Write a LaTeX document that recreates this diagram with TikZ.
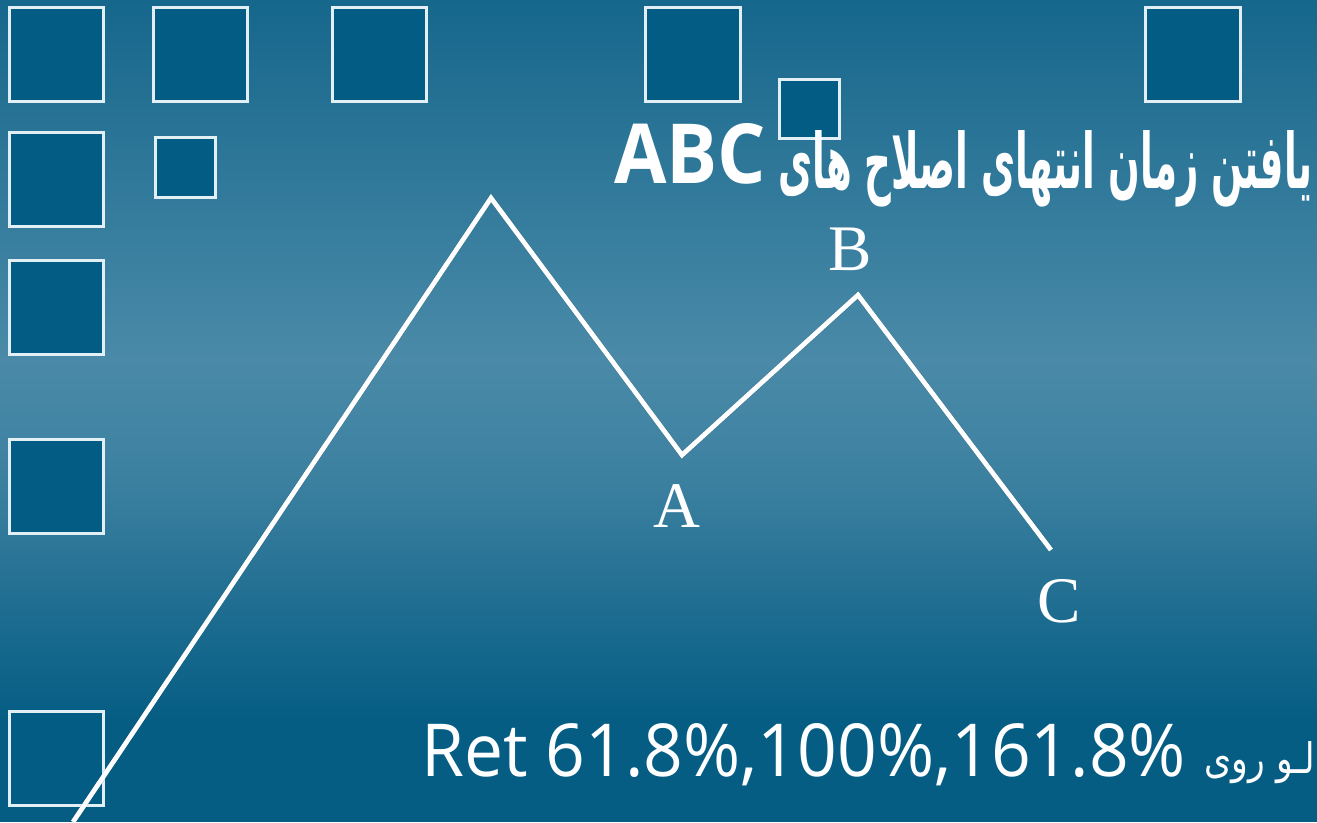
\documentclass[tikz,border=0pt]{standalone}
\usepackage{fontspec}
\setmainfont{Liberation Serif}
\newfontfamily\latinsans{Open Sans}
\newfontfamily\farsi[Script=Arabic]{DejaVu Sans}
\TeXXeTstate=1
\definecolor{bgtop}{RGB}{22,103,140}
\definecolor{bgmid}{RGB}{74,138,168}
\definecolor{bgmidb}{RGB}{60,128,160}
\definecolor{bgbot}{RGB}{5,93,132}
\definecolor{sqfill}{RGB}{2,92,132}
\definecolor{sqline}{RGB}{226,239,245}
\begin{document}
\begin{tikzpicture}[x=1pt,y=1pt,
  sq/.style={fill=sqfill, draw=sqline, line width=3pt},
  wave/.style={draw=white, line width=4.8pt, line join=miter},
  lbl/.style={text=white, font=\fontsize{65}{65}\selectfont, inner sep=0pt, anchor=base},
  txt/.style={text=white, inner sep=0pt}]
\useasboundingbox (0,0) rectangle (1317,-822);
% background
\shade[top color=bgtop, bottom color=bgmid] (0,0) rectangle (1317,-360);
\shade[top color=bgmid, bottom color=bgmidb] (0,-360) rectangle (1317,-480);
\shade[top color=bgmidb, bottom color=bgbot] (0,-480) rectangle (1317,-720);
\fill[bgbot] (0,-720) rectangle (1317,-822);
% squares
\draw[sq] (9,-7) rectangle (103,-101);
\draw[sq] (153,-7) rectangle (247,-101);
\draw[sq] (332,-7) rectangle (426,-101);
\draw[sq] (645,-7) rectangle (740,-101);
\draw[sq] (1145,-7) rectangle (1240,-101);
\draw[sq] (779,-79) rectangle (839,-138);
\draw[sq] (9,-132) rectangle (103,-226);
\draw[sq] (155,-137) rectangle (215,-197);
\draw[sq] (9,-260) rectangle (103,-354);
\draw[sq] (9,-439) rectangle (103,-533);
\draw[sq] (9,-711) rectangle (103,-805);
% wave
\coordinate (s) at (73,-822);
\coordinate (p) at (491,-198);
\coordinate (a) at (682,-455);
\coordinate (b) at (858,-295);
\coordinate (c) at (1051,-550);
\draw[wave, draw=black, opacity=0.18, line width=5.5pt, shift={(1.5,-1.5)}] (s) -- (p) -- (a) -- (b) -- (c);
\draw[wave] (s) -- (p) -- (a) -- (b) -- (c);
% labels
\node[lbl] (la) at (677,-527) {A};
\node[lbl] (lb) at (850,-270) {B};
\node[lbl] (lc) at (1059,-622) {C};
% title
\node[txt, anchor=base west] (abc) at (614,-183) {\resizebox{152pt}{60pt}{\latinsans\bfseries ABC}};
\node[txt, anchor=base west] (ttl) at (778,-188) {\resizebox{534pt}{58pt}{\farsi\bfseries\fontsize{50}{50}\selectfont\beginR یافتن زمان انتهای اصلاح های\endR}};
% bottom line
\node[txt, anchor=base west] (ret) at (421,-776) {\resizebox{765pt}{53pt}{\latinsans\fontsize{70}{70}\selectfont Ret 61.8\%,100\%,161.8\%}};
\node[txt, anchor=base east] (roy) at (1315,-773) {\resizebox{110pt}{32pt}{\farsi\fontsize{40}{40}\selectfont\beginR لـو روی\endR}};
\end{tikzpicture}
\end{document}
